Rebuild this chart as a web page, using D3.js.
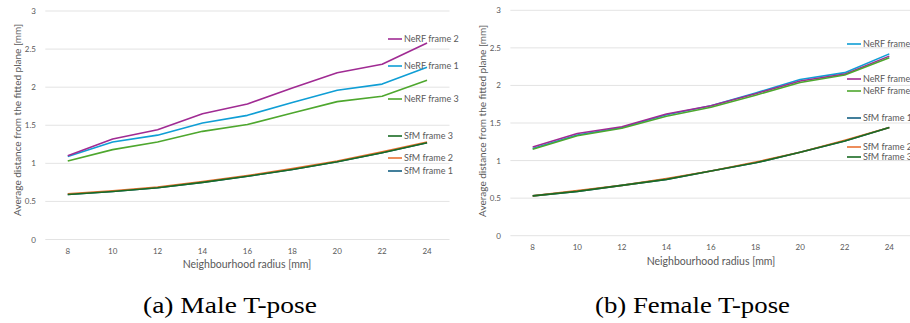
<!DOCTYPE html>
<html>
<head>
<meta charset="utf-8">
<script src="https://cdn.jsdelivr.net/npm/d3@7"></script>
<style>
  html, body { margin: 0; padding: 0; background: #fff; overflow: hidden; }
  svg { display: block; }
  .tick-label { font-family: Lato, "Liberation Sans", sans-serif; font-size: 8px; fill: #595959; }
  .axis-title { font-family: Lato, "Liberation Sans", sans-serif; font-size: 10.5px; fill: #595959; }
  .y-title { font-size: 10px; }
  .legend-label { font-family: Lato, "Liberation Sans", sans-serif; font-size: 9px; fill: #595959; }
  .caption { font-family: "Liberation Serif", "DejaVu Serif", serif; font-size: 24px; fill: #000; }
</style>
</head>
<body>
<div id="chart"></div>
<script>
const radii = [8, 10, 12, 14, 16, 18, 20, 22, 24];
const yTicks = [0, 0.5, 1, 1.5, 2, 2.5, 3];
const seriesNames = ["SfM frame 1", "SfM frame 2", "SfM frame 3", "NeRF frame 1", "NeRF frame 2", "NeRF frame 3"];
const seriesColors = ["#156082", "#e97132", "#196b24", "#0f9ed5", "#a02b93", "#4ea72e"];

// male T-pose
const maleSfm1 = [0.59, 0.63, 0.68, 0.75, 0.83, 0.92, 1.02, 1.14, 1.27];
const maleSfm2 = [0.60, 0.64, 0.69, 0.76, 0.84, 0.93, 1.03, 1.15, 1.28];
const maleSfm3 = [0.59, 0.63, 0.68, 0.75, 0.83, 0.92, 1.02, 1.14, 1.27];
const maleNerf1 = [1.09, 1.28, 1.37, 1.53, 1.63, 1.80, 1.96, 2.04, 2.26];
const maleNerf2 = [1.10, 1.32, 1.44, 1.65, 1.78, 1.99, 2.19, 2.30, 2.58];
const maleNerf3 = [1.03, 1.18, 1.28, 1.42, 1.51, 1.66, 1.81, 1.88, 2.09];

// female T-pose
const femaleSfm1 = [0.53, 0.59, 0.67, 0.75, 0.86, 0.97, 1.11, 1.26, 1.44];
const femaleSfm2 = [0.53, 0.60, 0.67, 0.76, 0.86, 0.98, 1.11, 1.27, 1.44];
const femaleSfm3 = [0.53, 0.59, 0.67, 0.75, 0.86, 0.97, 1.11, 1.26, 1.44];
const femaleNerf1 = [1.16, 1.34, 1.44, 1.61, 1.73, 1.90, 2.08, 2.17, 2.42];
const femaleNerf2 = [1.18, 1.36, 1.45, 1.62, 1.73, 1.89, 2.06, 2.15, 2.39];
const femaleNerf3 = [1.15, 1.33, 1.43, 1.59, 1.71, 1.87, 2.04, 2.14, 2.37];

const maleLegendOrder = ["NeRF frame 2", "NeRF frame 1", "NeRF frame 3", "SfM frame 3", "SfM frame 2", "SfM frame 1"];
const femaleLegendOrder = ["NeRF frame 1", "NeRF frame 2", "NeRF frame 3", "SfM frame 1", "SfM frame 2", "SfM frame 3"];

const xTitle = "Neighbourhood radius [mm]";
const yTitle = "Average distance from the fitted plane [mm]";
const captions = ["(a) Male T-pose", "(b) Female T-pose"];

const width = 910;
const height = 323;

const svg = d3.select("#chart").append("svg")
    .attr("width", width)
    .attr("height", height);

const panels = [
    {
        series: [maleSfm1, maleSfm2, maleSfm3, maleNerf1, maleNerf2, maleNerf3],
        legendOrder: maleLegendOrder,
        legendY: [39, 66, 99, 136, 158, 171],
        legendX: 388,
        left: 45.3, right: 449.5, top: 11, bottom: 239.5,
        yLabelX: 36, yTitleX: 17, yTitleY: 120, xTitleX: 247, xTitleY: 268,
        caption: captions[0], captionX: 230, captionWidth: 174
    },
    {
        series: [femaleSfm1, femaleSfm2, femaleSfm3, femaleNerf1, femaleNerf2, femaleNerf3],
        legendOrder: femaleLegendOrder,
        legendY: [44, 79, 91, 118, 147, 157],
        legendX: 847,
        left: 510.4, right: 911.6, top: 10.3, bottom: 235.7,
        yLabelX: 501, yTitleX: 482, yTitleY: 121, xTitleX: 711, xTitleY: 265,
        caption: captions[1], captionX: 692.5, captionWidth: 195
    }
];

panels.forEach(p => {
    const g = svg.append("g");

    const x = d3.scalePoint()
        .domain(radii)
        .range([p.left, p.right])
        .padding(0.5);

    const y = d3.scaleLinear()
        .domain([0, 3])
        .range([p.bottom, p.top]);

    // gridlines
    g.selectAll("line.grid")
        .data(yTicks)
        .enter()
        .append("line")
        .attr("class", "grid")
        .attr("x1", p.left)
        .attr("x2", Math.min(p.right, width))
        .attr("y1", d => y(d))
        .attr("y2", d => y(d))
        .attr("stroke", "#d9d9d9")
        .attr("stroke-width", 0.75);

    g.selectAll("text.ylab")
        .data(yTicks)
        .enter()
        .append("text")
        .attr("class", "tick-label")
        .attr("x", p.yLabelX)
        .attr("y", d => y(d) + 3)
        .attr("text-anchor", "end")
        .text(d => d);

    g.selectAll("text.xlab")
        .data(radii)
        .enter()
        .append("text")
        .attr("class", "tick-label")
        .attr("x", d => x(d))
        .attr("y", p.bottom + 14.5)
        .attr("text-anchor", "middle")
        .text(d => d);

    g.append("text")
        .attr("class", "axis-title")
        .attr("x", p.xTitleX)
        .attr("y", p.xTitleY)
        .attr("text-anchor", "middle")
        .text(xTitle);

    g.append("text")
        .attr("class", "axis-title y-title")
        .attr("transform", "translate(" + (p.yTitleX + 4) + "," + p.yTitleY + ") rotate(-90)")
        .attr("text-anchor", "middle")
        .text(yTitle);

    const line = d3.line()
        .x((d, i) => x(radii[i]))
        .y(d => y(d));

    p.series.forEach((values, i) => {
        g.append("path")
            .datum(values)
            .attr("d", line)
            .attr("fill", "none")
            .attr("stroke", seriesColors[i])
            .attr("stroke-width", 1.6)
            .attr("stroke-linejoin", "round");
    });

    // legend entries placed next to the line ends
    p.legendOrder.forEach((name, i) => {
        const idx = seriesNames.indexOf(name);
        const ly = p.legendY[i];
        g.append("line")
            .attr("x1", p.legendX)
            .attr("x2", p.legendX + 14)
            .attr("y1", ly)
            .attr("y2", ly)
            .attr("stroke", seriesColors[idx])
            .attr("stroke-width", 1.6);
        g.append("text")
            .attr("class", "legend-label")
            .attr("x", p.legendX + 16)
            .attr("y", ly + 3)
            .text(name);
    });

    svg.append("text")
        .attr("class", "caption")
        .attr("x", p.captionX)
        .attr("y", 313)
        .attr("text-anchor", "middle")
        .attr("textLength", p.captionWidth)
        .attr("lengthAdjust", "spacingAndGlyphs")
        .text(p.caption);
});
</script>
</body>
</html>
